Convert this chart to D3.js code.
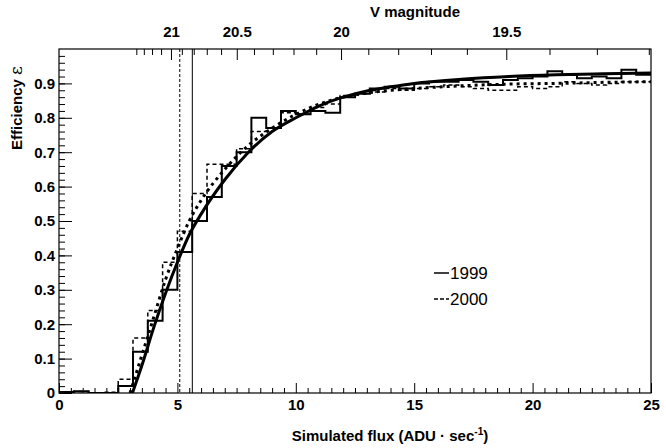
<!DOCTYPE html>
<html><head><meta charset="utf-8">
<script src="https://cdn.jsdelivr.net/npm/d3@7"></script>
<style>body{margin:0;background:#fff}text{font-family:"Liberation Sans",Arial,sans-serif}</style>
</head><body>
<script>
// histogram bins, width 0.625, starting at 0
const binWidth = 0.625;
const eff1999 = [0.003,0.005,0,0,0.02,0.12,0.21,0.30,0.41,0.50,0.57,0.66,0.70,0.80,0.77,0.82,0.81,0.82,0.815,0.86,
  0.87,0.885,0.89,0.885,0.90,0.905,0.905,0.91,0.905,0.895,0.91,0.915,0.92,0.935,0.925,0.915,0.92,0.915,0.94,0.925];
const eff2000 = [0,0.004,0,0.002,0.04,0.16,0.24,0.38,0.47,0.58,0.665,0.665,0.71,0.76,0.77,0.815,0.81,0.83,0.84,0.865,
  0.87,0.875,0.885,0.88,0.885,0.89,0.895,0.89,0.885,0.88,0.88,0.89,0.885,0.89,0.905,0.90,0.895,0.90,0.905,0.905];
// fitted curves
const fitX1999 = [3.1,3.5,4,4.5,5,5.5,6,7,8,9,10,11,12,13,14,15,17,19,21,23,25];
const fitY1999 = [0,0.08,0.19,0.29,0.38,0.46,0.52,0.62,0.70,0.76,0.80,0.835,0.86,0.878,0.89,0.90,0.912,0.92,0.925,0.928,0.93];
const fitX2000 = [3.0,3.5,4,4.5,5,5.5,6,7,8,9,10,11,12,13,14,15,17,19,21,23,25];
const fitY2000 = [0,0.11,0.22,0.33,0.42,0.50,0.56,0.65,0.72,0.77,0.81,0.84,0.86,0.872,0.88,0.885,0.893,0.898,0.90,0.903,0.905];
const vLines = [{x: 5.1, dash: "3,2"}, {x: 5.63, dash: null}];
const vmagLabels = [21, 20.5, 20, 19.5];
const fluxAtV21 = 4.75;

const W = 666, H = 448;
const m = {l: 59, r: 15, t: 49, b: 55};
const svg = d3.select("body").append("svg").attr("width", W).attr("height", H);
const x = d3.scaleLinear().domain([0, 25]).range([m.l, W - m.r]);
const y = d3.scaleLinear().domain([0, 1]).range([H - m.b, m.t]);
svg.append("clipPath").attr("id", "c").append("rect")
  .attr("x", m.l).attr("y", m.t).attr("width", W - m.l - m.r).attr("height", H - m.t - m.b);

// axes
svg.append("g").attr("transform", `translate(0,${H - m.b})`)
  .call(d3.axisBottom(x).tickValues(d3.range(0, 26, 5)).tickSize(-10).tickPadding(6).tickFormat(d3.format("d")));
svg.append("g").attr("transform", `translate(0,${H - m.b})`)
  .call(d3.axisBottom(x).tickValues(d3.range(0, 25.1, 0.5).filter(v => v % 5)).tickSize(-5).tickFormat(""));
svg.append("g").attr("transform", `translate(${m.l},0)`)
  .call(d3.axisLeft(y).tickValues(d3.range(0, 0.95, 0.1)).tickSize(-13).tickPadding(4)
    .tickFormat(d => d === 0 ? "0" : d3.format(".1f")(d)));
svg.append("g").attr("transform", `translate(${m.l},0)`)
  .call(d3.axisLeft(y).tickValues(d3.range(0, 1.0, 0.02)).tickSize(-6).tickFormat(""));
// top V magnitude axis
const vToX = v => x(fluxAtV21 * Math.pow(10, -0.4 * (v - 21)));
const topAxis = svg.append("g");
d3.range(21.4, 18.99, -0.1).forEach(v => {
  const px = vToX(v);
  if (px < m.l || px > W - m.r) return;
  const major = Math.abs(v * 2 - Math.round(v * 2)) < 1e-6;
  topAxis.append("line").attr("x1", px).attr("x2", px).attr("y1", m.t).attr("y2", m.t + (major ? 11 : 6))
    .attr("stroke", "#000");
});
vmagLabels.forEach(v => topAxis.append("text").attr("x", vToX(v)).attr("y", m.t - 12).attr("text-anchor", "middle")
  .attr("font-size", 15).attr("font-weight", "bold").text(v));
svg.selectAll(".domain").remove();
svg.selectAll(".tick text").attr("font-size", 15).attr("font-weight", "bold").attr("fill", "#000");
svg.append("rect").attr("x", m.l).attr("y", m.t).attr("width", W - m.l - m.r).attr("height", H - m.t - m.b)
  .attr("fill", "none").attr("stroke", "#000").attr("stroke-width", 1.2);

const g = svg.append("g").attr("clip-path", "url(#c)");
vLines.forEach(l => g.append("line").attr("x1", x(l.x)).attr("x2", x(l.x)).attr("y1", m.t).attr("y2", H - m.b)
  .attr("stroke", "#000").attr("stroke-width", 1).attr("stroke-dasharray", l.dash));

const stepLine = vals => {
  const pts = [];
  vals.forEach((v, i) => { pts.push([i * binWidth, v]); pts.push([(i + 1) * binWidth, v]); });
  return d3.line().x(d => x(d[0])).y(d => y(d[1]))(pts);
};
g.append("path").attr("d", stepLine(eff2000)).attr("fill", "none").attr("stroke", "#000")
  .attr("stroke-width", 1.5).attr("stroke-dasharray", "4,3");
g.append("path").attr("d", stepLine(eff1999)).attr("fill", "none").attr("stroke", "#000").attr("stroke-width", 2);

const fit = d3.line().x(d => x(d[0])).y(d => y(d[1])).curve(d3.curveMonotoneX);
g.append("path").attr("d", fit(fitX2000.map((v, i) => [v, fitY2000[i]]))).attr("fill", "none")
  .attr("stroke", "#000").attr("stroke-width", 3).attr("stroke-dasharray", "3,4");
g.append("path").attr("d", fit(fitX1999.map((v, i) => [v, fitY1999[i]]))).attr("fill", "none")
  .attr("stroke", "#000").attr("stroke-width", 3);

// legend
[["1999", null, 273], ["2000", "4,2", 299]].forEach(([t, dash, ly]) => {
  svg.append("line").attr("x1", 434).attr("x2", 449).attr("y1", ly).attr("y2", ly).attr("stroke", "#000")
    .attr("stroke-width", 1.5).attr("stroke-dasharray", dash);
  svg.append("text").attr("x", 450).attr("y", ly + 6).attr("font-size", 17).text(t);
});

// titles
svg.append("text").attr("x", (m.l + W - m.r) / 2 + 35).attr("y", 441).attr("text-anchor", "middle")
  .attr("font-size", 15).attr("font-weight", "bold")
  .html('Simulated flux (ADU · sec<tspan dy="-6" font-size="10">-1</tspan><tspan dy="6">)</tspan>');
svg.append("text").attr("x", 415).attr("y", 17).attr("text-anchor", "middle")
  .attr("font-size", 15).attr("font-weight", "bold").text("V magnitude");
svg.append("text").attr("transform", "translate(22,108) rotate(-90)").attr("text-anchor", "middle")
  .attr("font-size", 15).attr("font-weight", "bold").html('Efficiency <tspan font-weight="normal" font-family="DejaVu Serif" font-size="17"> ε</tspan>');
</script>
</body></html>
